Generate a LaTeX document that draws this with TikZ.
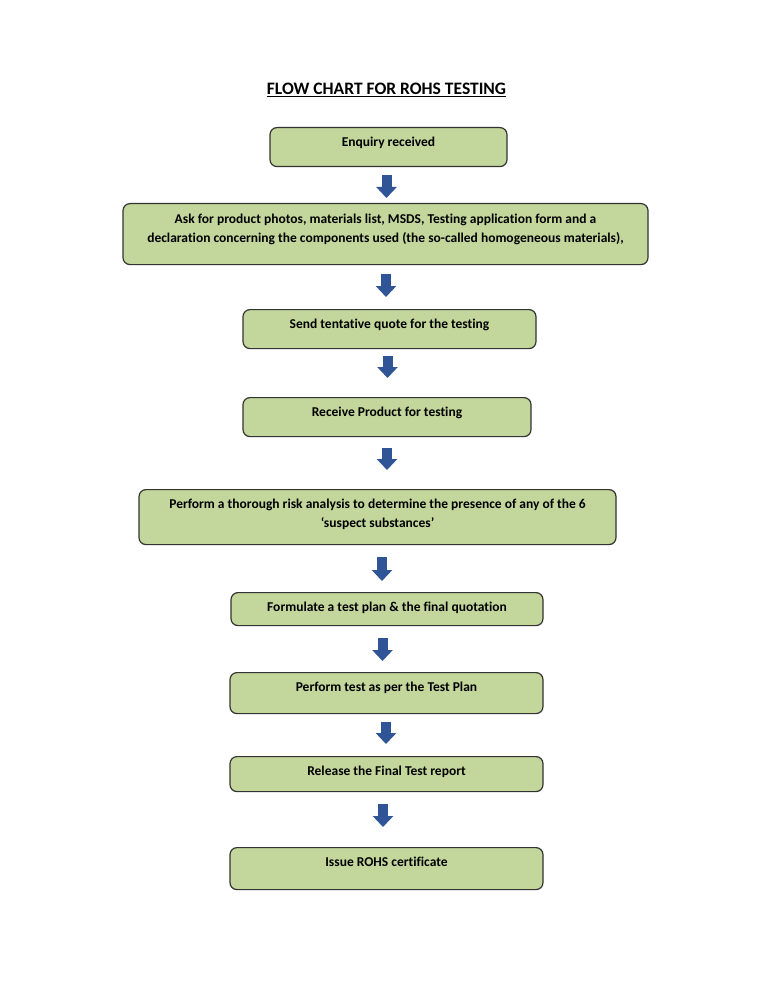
\documentclass[tikz,border=0pt]{standalone}
\usepackage{fontspec}
\setmainfont{Carlito}[Ligatures={NoCommon}]
\usepackage{tikz}
\usetikzlibrary{arrows.meta}

\definecolor{boxgreen}{HTML}{C3D69B}
\definecolor{arrowblue}{HTML}{2F5597}

\tikzset{
  stepbox/.style={draw=black!80,line width=1.2pt,fill=boxgreen,rounded corners=7pt,
    anchor=north,align=center,inner xsep=4pt,inner ysep=9pt,text height=10pt,
    font=\fontsize{13.5}{19}\selectfont\bfseries},
  flowarrow/.style={arrowblue,line width=10pt,-{Triangle[width=20pt,length=11pt]}}
}

\begin{document}
\begin{tikzpicture}[x=1pt,y=-1pt]

% page:
\fill[white] (0,0) rectangle (773,1000);
\useasboundingbox (0,0) rectangle (773,1000);

% title:
\path (386.5,95) node[anchor=base,font=\fontsize{17.5}{20}\selectfont\bfseries] (title) {\underline{FLOW CHART FOR ROHS TESTING}};

% boxes:
\node[stepbox,minimum width=237pt,text depth=11pt] (enquiry) at (388.5,127) {Enquiry received};
\node[stepbox,minimum width=525pt,text height=30pt,text depth=13pt] (docs) at (385.5,203)
  {Ask for product photos, materials list, MSDS, Testing application form and a\\
   declaration concerning the components used (the so-called homogeneous materials),};
\node[stepbox,minimum width=293pt,text depth=11pt] (quote) at (389.5,309) {Send tentative quote for the testing};
\node[stepbox,minimum width=288pt,text depth=11pt] (receive) at (387,397) {Receive Product for testing};
\node[stepbox,minimum width=477pt,text height=29pt,text depth=8pt] (risk) at (377.5,489)
  {Perform a thorough risk analysis to determine the presence of any of the 6\\
   ‘suspect substances’};
\node[stepbox,minimum width=312pt,text depth=5pt] (plan) at (387,592) {Formulate a test plan \& the final quotation};
\node[stepbox,minimum width=313pt,text depth=13pt] (test) at (386.5,672) {Perform test as per the Test Plan};
\node[stepbox,minimum width=313pt,text depth=7pt] (report) at (386.5,756) {Release the Final Test report};
\node[stepbox,minimum width=313pt,text depth=14pt] (cert) at (386.5,847) {Issue ROHS certificate};

% arrows:
\draw[flowarrow] ([xshift=-2pt,yshift=-8pt]enquiry.south) -- ([xshift=-2pt,yshift=5pt]enquiry.south |- docs.north);
\draw[flowarrow] ([xshift=0.5pt,yshift=-9pt]docs.south) -- ([xshift=0.5pt,yshift=12pt]docs.south |- quote.north);
\draw[flowarrow] ([xshift=-2pt,yshift=-7pt]quote.south) -- ([xshift=-2pt,yshift=19pt]quote.south |- receive.north);
\draw[flowarrow] ([yshift=-11pt]receive.south) -- ([yshift=19pt]receive.south |- risk.north);
\draw[flowarrow] ([xshift=4.5pt,yshift=-12pt]risk.south) -- ([xshift=4.5pt,yshift=11pt]risk.south |- plan.north);
\draw[flowarrow] ([xshift=-4.5pt,yshift=-12pt]plan.south) -- ([xshift=-4.5pt,yshift=11pt]plan.south |- test.north);
\draw[flowarrow] ([xshift=-0.5pt,yshift=-8pt]test.south) -- ([xshift=-0.5pt,yshift=12pt]test.south |- report.north);
\draw[flowarrow] ([xshift=-3.5pt,yshift=-12pt]report.south) -- ([xshift=-3.5pt,yshift=20pt]report.south |- cert.north);

\end{tikzpicture}
\end{document}
